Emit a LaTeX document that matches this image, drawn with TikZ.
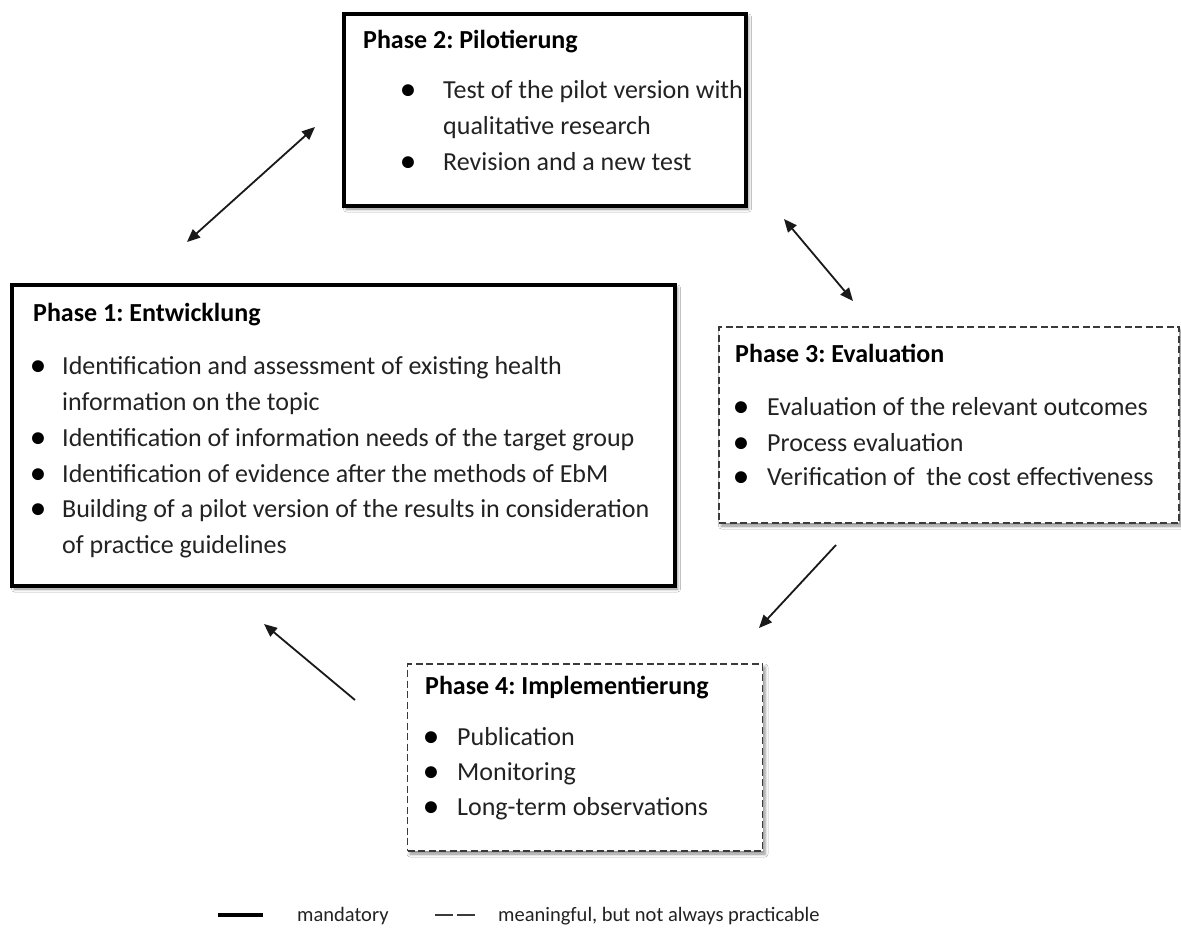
\documentclass[tikz,border=0pt]{standalone}
\usepackage{fontspec}
\setmainfont{Carlito}
\usetikzlibrary{arrows.meta,shadows.blur}
\definecolor{txt}{HTML}{222222}
\definecolor{dashc}{HTML}{3A3A3A}
\frenchspacing
\begin{document}
\begin{tikzpicture}[x=1pt,y=-1pt,
  shadowed/.style={blur shadow={shadow xshift=2.5pt,shadow yshift=-3pt,shadow blur radius=3pt,shadow opacity=45}},
  solidbox/.style={draw=black,line width=4pt,fill=white,inner sep=0pt,shadowed},
  dashbox/.style={draw=dashc,line width=1.6pt,dash pattern=on 7pt off 3.5pt,fill=white,inner sep=0pt,shadowed},
  title/.style={anchor=base west,inner sep=0pt,text=black,font=\fontsize{26}{30}\selectfont\bfseries},
  body/.style={anchor=base west,inner sep=0pt,text=txt,font=\fontsize{26}{30}\selectfont},
  bul/.style={anchor=base,inner sep=0pt,text=black,font=\fontsize{28}{30}\selectfont\bfseries},
  legtxt/.style={anchor=base west,inner sep=0pt,text=txt,font=\fontsize{20.5}{24}\selectfont},
  conn/.style={line width=1.8pt,draw=black!90},
  tip/.style={-{Triangle[length=13pt,width=11pt]}},
  tips/.style={{Triangle[length=13pt,width=11pt]}-{Triangle[length=13pt,width=11pt]}}
]
\useasboundingbox[fill=white] (0,0) rectangle (1181,931);

% Boxes
\node[solidbox,minimum width=402pt,minimum height=192pt] (p2) at (545,110) {};
\node[solidbox,minimum width=663pt,minimum height=301pt] (p1) at (343.5,435.5) {};
\node[dashbox,minimum width=460pt,minimum height=196pt] (p3) at (949,425) {};
\node[dashbox,minimum width=355pt,minimum height=187pt] (p4) at (585,757.5) {};

% Phase 2 text
\node[title] (p2t) at (363,49) {Phase 2: Pilotierung};
\node[bul] (p2b1) at (408,99) {\textbullet};
\node[body] (p2l1) at (443,99) {Test of the pilot version with};
\node[body] (p2l2) at (443,135) {qualitative research};
\node[bul] (p2b2) at (408,171) {\textbullet};
\node[body] (p2l3) at (443,171) {Revision and a new test};

% Phase 1 text
\node[title] (p1t) at (33,321) {Phase 1: Entwicklung};
\node[bul] (p1b1) at (38,374) {\textbullet};
\node[body] (p1l1) at (62,374) {Identification and assessment of existing health};
\node[body] (p1l2) at (62,410) {information on the topic};
\node[bul] (p1b2) at (38,446) {\textbullet};
\node[body] (p1l3) at (62,446) {Identification of information needs of the target group};
\node[bul] (p1b3) at (38,482) {\textbullet};
\node[body] (p1l4) at (62,482) {Identification of evidence after the methods of EbM};
\node[bul] (p1b4) at (38,517) {\textbullet};
\node[body] (p1l5) at (62,517) {Building of a pilot version of the results in consideration};
\node[body] (p1l6) at (62,553) {of practice guidelines};

% Phase 3 text
\node[title] (p3t) at (735,362) {Phase 3: Evaluation};
\node[bul] (p3b1) at (741,415) {\textbullet};
\node[body] (p3l1) at (767,415) {Evaluation of the relevant outcomes};
\node[bul] (p3b2) at (741,451) {\textbullet};
\node[body] (p3l2) at (767,451) {Process evaluation};
\node[bul] (p3b3) at (741,485) {\textbullet};
\node[body] (p3l3) at (767,485) {Verification of\ \ the cost effectiveness};

% Phase 4 text
\node[title] (p4t) at (425,694) {Phase 4: Implementierung};
\node[bul] (p4b1) at (431,745) {\textbullet};
\node[body] (p4l1) at (457,745) {Publication};
\node[bul] (p4b2) at (431,780) {\textbullet};
\node[body] (p4l2) at (457,780) {Monitoring};
\node[bul] (p4b3) at (431,815) {\textbullet};
\node[body] (p4l3) at (457,815) {Long-term observations};

% Arrow end points
\coordinate (a12a) at (187,242);
\coordinate (a12b) at (315,127);
\coordinate (a23a) at (784,219);
\coordinate (a23b) at (853,301);
\coordinate (a34a) at (836,545);
\coordinate (a34b) at (759,628);
\coordinate (a41a) at (355,700);
\coordinate (a41b) at (264,624);

\draw[conn,tips] (a12a) -- (a12b);
\draw[conn,tips] (a23a) -- (a23b);
\draw[conn,tip] (a34a) -- (a34b);
\draw[conn,tip] (a41a) -- (a41b);

% Legend
\coordinate (l1a) at (218,915);
\coordinate (l1b) at (263,915);
\draw[line width=4.5pt,black] (l1a) -- (l1b);
\node[legtxt] (lt1) at (297,921) {mandatory};
\coordinate (l2a) at (435,915);
\coordinate (l2b) at (476,915);
\draw[line width=2pt,dashc,dash pattern=on 18pt off 3.5pt] (l2a) -- (l2b);
\node[legtxt] (lt2) at (498,921) {meaningful, but not always practicable};
\end{tikzpicture}
\end{document}
